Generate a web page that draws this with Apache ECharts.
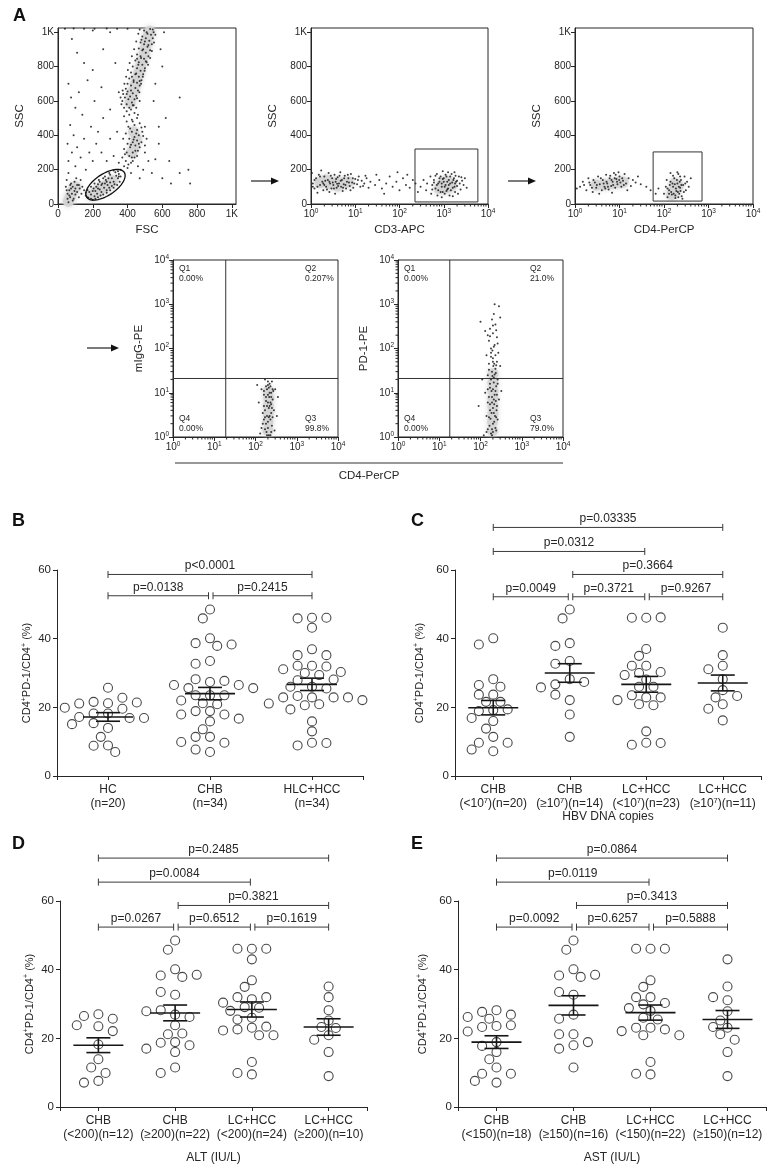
<!DOCTYPE html>
<html><head><meta charset="utf-8">
<script src="https://cdn.jsdelivr.net/npm/echarts@6/dist/echarts.min.js"></script>
<style>html,body{margin:0;padding:0;background:#fff}#c{width:780px;height:1173px}</style>
</head><body><div id="c"></div>
<script>
// ================= DATA =================
// ---- Panel A: flow cytometry events ----
const fscBand = [[380,560],[410,560],[395,580],[425,590],[370,600],[440,610],[385,620],[415,625],[450,630],[375,640],[430,645],[400,655],[460,660],[390,670],[445,675],[420,690],[470,690],[400,700],[455,705],[435,720],[480,720],[410,730],[465,740],[445,755],[490,755],[420,765],[475,775],[455,790],[500,790],[430,800],[485,810],[465,825],[510,825],[445,835],[495,845],[475,860],[520,860],[455,870],[505,880],[485,895],[530,895],[465,905],[515,915],[495,930],[540,930],[475,940],[525,950],[505,965],[545,965],[485,975],[535,985],[510,1000],[550,1000],[495,1010],[530,1018],[470,1015],[545,1015],
  [365,580],[430,575],[360,620],[455,615],[372,660],[468,650],[382,700],[478,700],[392,740],[488,740],[402,780],[498,775],[412,820],[518,810],[425,860],[530,850],[438,900],[540,890],[450,945],[552,940],[462,990],[560,985],[405,610],[420,660],[435,710],[450,760],[462,810],[478,850],[490,900],[500,945],[515,990],[395,640],[470,715],[425,740],[505,830],[455,845],[520,925],[480,955]];
const fscMid = [[360,200],[380,220],[400,210],[350,240],[390,250],[420,240],[370,270],[410,280],[440,270],[395,300],[430,300],[460,310],[380,320],[415,330],[445,340],[470,330],[400,350],[430,360],[455,370],[480,360],[410,380],[440,390],[465,400],[390,410],[425,420],[455,430],[485,420],[405,450],[440,460],[470,470],[395,480],[425,490],[455,500],[410,520],[440,530],[380,510],[420,550],[450,560],[500,300],[520,250],[490,200],[540,180],[560,260],[510,380],[420,180],[460,220],[500,450],[350,160],[470,150],[600,150],[650,120],[580,350],
  [405,230],[430,250],[385,290],[445,310],[420,345],[465,350],[435,375],[450,410],[415,440],[480,445],[430,480],[460,520],[395,540],[435,575],[470,600],[375,380],[490,395],[500,340],[425,270],[455,280]];
const fscLymph = [[170,40],[190,55],[210,45],[200,75],[225,60],[240,85],[220,100],[250,70],[265,95],[280,80],[255,120],[285,110],[300,125],[275,140],[310,150],[320,130],[335,165],[300,170],[345,150],[240,130],[190,30],[215,30],[330,185],[350,175],[230,115],[205,90],[180,70],[295,95],[325,115],[270,160],
  [160,50],[175,35],[200,25],[230,40],[245,50],[260,55],[280,65],[300,80],[320,95],[340,110],[355,130],[360,160],[345,190],[320,195],[295,180],[260,150],[235,140],[210,120],[190,100],[170,80],[160,65],[230,90],[280,130],[310,105],[250,110],[215,75],[270,120],[290,150]];
const fscDebris = [[60,10],[70,40],[80,60],[90,30],[65,80],[85,100],[100,90],[110,70],[75,120],[95,130],[120,110],[55,60],[105,150],[130,140],[140,100],[150,80],[50,140],[60,180],[45,100],[120,40],[135,60],
  [55,30],[65,50],[75,90],[85,20],[100,55],[110,110],[95,75],[50,80],[70,110],[125,90]];
const fscSparse = [[60,250],[80,300],[100,220],[55,350],[90,400],[70,460],[110,330],[130,270],[150,380],[180,300],[200,250],[160,200],[220,350],[250,300],[190,450],[140,520],[100,560],[75,620],[60,700],[120,650],[170,720],[210,600],[260,500],[230,420],[300,380],[280,250],[320,280],[340,420],[300,550],[250,680],[200,780],[150,820],[110,880],[260,900],[330,820],[350,650],[580,450],[620,500],[700,620],[550,600],[600,800],[560,700],[640,250],[700,180],[750,200],[760,120],[80,960],[300,1000],[200,1010],[610,1000],[590,900],[40,1020],[90,1021],[150,1020],[210,1019],[280,1021],[340,1020],[400,1020]];
const fscCore = [[415,590],[425,625],[435,660],[445,695],[455,730],[465,765],[475,800],[485,835],[495,870],[503,905],[511,940],[519,975],[527,1005],[425,300],[440,340],[450,380],[435,420],[215,65],[235,80],[255,92],[275,105],[295,118],[315,135],[195,50],[70,40],[85,75],[100,100],[60,15]];

const cd3Dots = [[1.1,120],[1.3,150],[1.2,90],[1.5,170],[1.6,110],[1.8,130],[1.9,80],[2.0,160],[2.2,100],[2.4,140],[2.5,180],[2.7,120],[2.9,90],[3.0,150],[3.2,110],[3.4,170],[3.6,130],[3.8,95],[4.0,155],[4.3,120],[4.6,185],[4.8,100],[5.0,140],[5.5,115],[5.8,165],[6.2,90],[6.5,130],[7.0,150],[7.5,105],[8.0,175],[8.5,125],[9.0,95],[10,145],[11,115],[12,160],[13,100],[14,135],[16,120],[18,150],[20,95],[22,130],[1.4,65],[2.6,70],[3.5,60],[1.05,180],[1.7,195],[5.2,75],[7.8,80],
  [1.2,140],[1.4,100],[1.6,160],[1.9,120],[2.1,135],[2.3,85],[2.8,165],[3.1,125],[3.3,90],[3.7,145],[4.1,105],[4.4,165],[5.3,95],[5.6,150],[6.0,110],[6.8,170],[7.2,125],[9.5,120],[11.5,140],[15,105],[17,165],[1.1,100],[2.0,110],[2.6,130],[3.9,118],[4.7,135],[8.8,150],
  [28,110],[35,140],[40,90],[50,120],[60,160],[70,100],[85,130],[100,80],[120,150],[140,110],[170,95],[200,140],[230,120],[260,70],[45,60],[150,170],[90,185],[30,170],
  [300,100],[350,140],[400,80],[420,120],[500,160],[520,60],[550,110],[600,140],[650,90],[700,175],[720,50],[750,120],[800,150],[850,70],[900,100],[950,190],[1000,130],[1050,60],[1100,110],[1150,160],[1200,85],[1300,140],[1350,50],[1400,120],[1500,175],[1600,95],[1700,150],[1800,70],[1900,130],[2000,105],[2200,160],[2400,85],[2600,135],[2800,110],[3000,150],[3300,95],[1250,185],[900,40],[1600,45],[2100,60],[650,165],[1750,185],
  [700,110],[750,80],[800,130],[850,160],[900,120],[950,70],[1000,150],[1050,100],[1100,170],[1150,75],[1200,130],[1300,110],[1400,160],[1450,80],[1550,125],[1650,140],[1750,100],[1850,165],[2000,135],[2300,120],[2500,155],[600,125],[550,85],[1800,120],[1250,90],[950,145]];
const cd3Core = [[900,105],[1100,95],[1300,100],[1500,110],[1000,125],[1250,130],[800,90],[1.6,125],[2.5,120],[3.6,125],[5,122],[7,128],[2.2,140],[4,105]];

const cd4Dots = [[1.3,100],[1.5,130],[1.8,80],[2.0,150],[2.2,110],[2.5,70],[2.8,125],[3.0,95],[3.3,160],[3.6,115],[4.0,80],[4.2,140],[4.6,100],[5.0,170],[5.3,120],[5.7,85],[6.0,150],[6.5,105],[7.0,130],[7.5,180],[8.0,95],[8.5,145],[9.0,115],[10,160],[11,100],[12,135],[13,175],[14,120],[16,150],[18,105],[20,140],[23,125],[26,160],[30,115],[3.5,60],[6.8,65],[1.1,90],[9.5,185],[15,80],
  [1.6,110],[2.1,125],[2.6,140],[3.1,110],[3.8,150],[4.4,120],[5.1,130],[5.5,100],[6.2,165],[7.2,110],[7.8,150],[8.8,130],[9.8,140],[11.5,150],[12.5,110],[2.4,95],[4.8,90],[6.6,140],[8.2,170],[10.5,125],
  [40,100],[50,80],[65,60],[75,90],
  [100,60],[110,100],[120,40],[130,80],[140,130],[150,55],[160,100],[170,150],[180,35],[190,75],[200,120],[210,175],[220,60],[230,95],[240,140],[250,45],[270,110],[290,160],[310,80],[330,130],[360,100],[400,150],[140,180],[200,185],[260,30],[115,140],
  [120,90],[135,110],[145,70],[155,120],[165,60],[175,115],[185,90],[195,140],[205,70],[215,100],[225,130],[235,75],[245,110],[160,165],[180,50],[210,40],[280,70],[300,120],[130,60],[230,160]];
const cd4Core = [[3,110],[4.5,112],[6.5,120],[9,125],[12,128],[160,70],[185,90],[205,105],[175,120],[150,55]];

const igDots = [[130,1.2],[150,2],[170,1.5],[190,3],[210,1.1],[230,2.5],[250,1.8],[280,4],[160,5],[200,6],[240,3.5],[180,8],[220,10],[260,7],[140,12],[200,15],[250,18],[170,20],[300,12],[120,6],[330,3],[290,1.4],[210,4.5],[190,12],[230,14],[160,9],[270,11],[200,2.2],[185,1.3],[240,5.5],[215,8],[150,3.5],[350,8],[110,15],[260,2.8],
  [140,1.6],[160,2.5],[180,2],[200,1.6],[220,3],[240,1.3],[170,4],[190,5],[210,2.8],[230,6],[250,4.5],[180,6.5],[200,9],[220,5],[240,8],[260,12],[200,18],[180,14],[220,16],[160,11],[240,10],[190,1.1],[230,1.1],[170,2.8],[210,13]];
const igCore = [[200,1.4],[200,2.2],[205,3.4],[205,5],[210,7.5],[205,11]];

const pd1Dots = [[120,1.1],[150,1.5],[180,1.2],[200,2],[230,1.6],[260,2.5],[140,3],[170,4],[210,3.5],[250,5],[190,6],[160,8],[220,9],[280,7],[130,10],[200,12],[240,14],[170,16],[260,20],[150,25],[210,22],[190,30],[230,35],[160,45],[250,50],[200,60],[140,70],[270,80],[180,100],[220,120],[160,150],[250,180],[200,220],[170,280],[230,350],[190,450],[210,600],[220,1000],[280,900],[300,500],[100,400],[130,250],[300,40],[110,20],[320,11],[90,5],[240,2.8],[200,1.3],[175,2.6],[215,5.5],[185,11],[235,28],[205,40],[180,65],[195,90],[260,130],[150,200],
  [140,1.3],[165,1.8],[190,1.5],[215,2.2],[240,1.4],[160,2.8],[185,3.5],[200,4.5],[225,3],[245,4],[170,5.5],[210,7],[235,6.5],[150,6],[190,8],[230,11],[170,13],[210,17],[250,9],[180,20],[220,26],[160,33],[240,42],[200,50],[180,80],[230,70],[210,110],[170,190],[240,260],[200,330],[190,1.1],[150,12],[260,16],[195,24],[215,45]];
const pd1Core = [[195,1.4],[195,2.2],[200,3.4],[200,5],[200,7.5],[200,11],[200,17],[200,27]];

const lymphGate = [273, 112, 130, 62, 34];     // centre FSC, centre SSC, half-length, half-width, tilt (deg)
const cd3Gate = [224, 5900, 12, 320];          // x from, x to, y from, y to
const cd4Gate = [57, 715, 17, 303];
const quadGates = [[19, 21], [18, 21]];         // CD4 / PE thresholds
const igQuad = ['0.00%', '0.207%', '99.8%', '0.00%'];   // Q1, Q2, Q3, Q4
const pd1Quad = ['0.00%', '21.0%', '79.0%', '0.00%'];

const linTicks = [0, 200, 400, 600, 800, 1000];
const logTicks = [1, 10, 100, 1000, 10000];
const logMinor = [2,3,4,5,6,7,8,9,20,30,40,50,60,70,80,90,200,300,400,500,600,700,800,900,2000,3000,4000,5000,6000,7000,8000,9000];

// ---- Panel B ----
const bCats = ['HC\n(n=20)', 'CHB\n(n=34)', 'HLC+HCC\n(n=34)'];
const bHC = [25.7,21.2,21.6,22.8,21.1,21.4,19.6,19.9,18.2,18.2,16.9,17.2,16.9,14.0,15.4,15.1,11.4,8.9,8.8,7.0];
const bCHB = [48.5,45.9,40.1,38.7,37.9,38.3,33.5,32.7,27.4,28.2,27.7,25.6,26.5,26.5,25.6,23.5,23.5,23.5,22.0,21.2,20.9,18.9,18.9,17.9,17.9,15.9,16.7,13.6,11.4,11.4,9.7,9.9,7.0,7.7];
const bHLC = [46.1,45.9,46.1,43.2,36.9,35.2,35.2,32.1,32.1,31.9,31.1,30.0,30.3,29.4,27.9,28.1,26.0,25.5,26.0,22.9,23.3,22.9,22.9,22.9,21.1,20.6,20.9,22.1,19.4,15.9,13.0,9.7,8.9,9.6];
const bMean = [17.2, 24.0, 26.7];
const bSem = [1.25, 1.8, 1.8];
const bBrackets = [[0,2,58.7,'p<0.0001'],[0,1,52.5,'p=0.0138'],[1,2,52.5,'p=0.2415']];

// ---- Panel C ----
const cCats = ['CHB\n(<10{s|7})(n=20)', 'CHB\n(≥10{s|7})(n=14)', 'LC+HCC\n(<10{s|7})(n=23)', 'LC+HCC\n(≥10{s|7})(n=11)'];
const cG1 = [40.1,38.3,28.2,26.5,26.0,23.7,23.7,21.6,21.6,19.2,18.9,19.4,16.0,16.9,13.8,11.4,9.7,9.7,7.2,7.7];
const cG2 = [48.5,45.9,38.7,37.9,33.5,32.7,28.2,26.7,27.4,25.8,22.1,23.7,17.9,11.4];
const cG3 = [46.1,46.1,46.2,37.0,35.0,32.1,32.1,30.0,30.3,29.4,28.1,26.0,26.0,22.9,23.5,22.9,22.1,20.9,20.6,13.0,9.7,9.1,9.6];
const cG4 = [43.2,35.2,32.1,31.1,28.2,25.0,22.9,23.3,20.9,19.6,16.2];
const cMean = [19.9, 30.0, 26.7, 27.1];
const cSem = [2.1, 2.7, 2.3, 2.3];
const cBrackets = [[0,3,72.4,'p=0.03335'],[0,2,65.4,'p=0.0312'],[1,3,58.7,'p=0.3664'],[0,1,52.2,'p=0.0049'],[1,2,52.2,'p=0.3721'],[2,3,52.2,'p=0.9267']];

// ---- Panel D ----
const dCats = ['CHB\n(<200)(n=12)', 'CHB\n(≥200)(n=22)', 'LC+HCC\n(<200)(n=24)', 'LC+HCC\n(≥200)(n=10)'];
const dG1 = [27.0,26.5,25.7,23.5,23.8,22.1,18.2,13.9,11.5,9.9,7.6,7.1];
const dG2 = [48.5,45.8,40.1,38.3,37.9,38.5,32.7,33.5,26.9,28.2,26.2,27.9,23.8,21.2,21.4,18.9,18.7,18.0,17.0,16.0,11.5,9.9];
const dG3 = [46.1,46.1,46.1,43.0,36.9,35.0,31.4,32.0,32.0,30.4,29.1,28.9,28.0,26.0,25.5,23.1,23.4,22.6,22.3,20.9,20.9,13.1,9.5,9.9];
const dG4 = [35.1,32.0,28.2,25.2,23.3,23.0,20.9,19.6,16.0,9.0];
const dMean = [18.0, 27.4, 28.4, 23.3];
const dSem = [2.15, 2.3, 2.2, 2.4];
const dBrackets = [[0,3,72.5,'p=0.2485'],[0,2,65.5,'p=0.0084'],[1,3,58.7,'p=0.3821'],[0,1,52.4,'p=0.0267'],[1,2,52.4,'p=0.6512'],[2,3,52.4,'p=0.1619']];

// ---- Panel E ----
const eCats = ['CHB\n(<150)(n=18)', 'CHB\n(≥150)(n=16)', 'LC+HCC\n(<150)(n=22)', 'LC+HCC\n(≥150)(n=12)'];
const eG1 = [28.2,27.7,26.9,26.2,25.7,23.6,23.3,23.8,22.0,18.9,17.8,16.0,13.9,11.5,9.7,9.7,7.1,7.6];
const eG2 = [48.5,45.8,40.1,38.3,37.9,38.5,32.7,33.5,26.9,25.7,18.0,21.2,21.2,18.9,17.0,11.5];
const eG3 = [46.1,46.1,46.1,36.9,35.0,32.0,32.0,29.9,30.3,28.8,28.0,26.0,25.5,23.1,23.1,22.6,22.1,20.9,20.9,13.1,9.5,9.7];
const eG4 = [43.0,35.1,31.1,32.0,27.9,25.2,23.1,23.3,21.2,19.6,16.0,9.0];
const eMean = [18.9, 29.6, 27.5, 25.5];
const eSem = [1.85, 2.8, 2.2, 2.6];
const eBrackets = [[0,3,72.5,'p=0.0864'],[0,2,65.5,'p=0.0119'],[1,3,58.7,'p=0.3413'],[0,1,52.4,'p=0.0092'],[1,2,52.4,'p=0.6257'],[2,3,52.4,'p=0.5888']];

const yMax = 60, yTickStep = 20;

// ================= CHART =================
const FONT = "'Liberation Sans', Arial, Helvetica, sans-serif";
const INK = '#262626';
const chart = echarts.init(document.getElementById('c'), null, {renderer: 'canvas', width: 780, height: 1173});

const flowGrids = [
  {left: 58, top: 28, width: 178, height: 176},
  {left: 311, top: 28, width: 177, height: 176},
  {left: 575, top: 28, width: 178, height: 176},
  {left: 173, top: 260, width: 165, height: 177},
  {left: 398, top: 260, width: 165, height: 177}
];
const dotPanels = [
  {groups: [bHC, bCHB, bHLC], cats: bCats, mean: bMean, sem: bSem, brackets: bBrackets,
   grid: {left: 57, top: 570, width: 306, height: 206}, xName: '', xGap: 0, yGap: 20},
  {groups: [cG1, cG2, cG3, cG4], cats: cCats, mean: cMean, sem: cSem, brackets: cBrackets,
   grid: {left: 455, top: 570, width: 306, height: 206}, xName: 'HBV DNA copies', xGap: 35, yGap: 28},
  {groups: [dG1, dG2, dG3, dG4], cats: dCats, mean: dMean, sem: dSem, brackets: dBrackets,
   grid: {left: 60, top: 901, width: 307, height: 206}, xName: 'ALT (IU/L)', xGap: 45, yGap: 23},
  {groups: [eG1, eG2, eG3, eG4], cats: eCats, mean: eMean, sem: eSem, brackets: eBrackets,
   grid: {left: 458, top: 901, width: 308, height: 206}, xName: 'AST (IU/L)', xGap: 45, yGap: 28}
];

const supRich = {s: {fontSize: 6.5, lineHeight: 7, verticalAlign: 'top', fontFamily: FONT, color: INK}};

function flowAxis(gi, kind, name, nameGap) {
  const ax = {
    gridIndex: gi, name: name, nameLocation: 'middle', nameGap: nameGap,
    nameTextStyle: {fontSize: 11.5, color: INK, fontFamily: FONT},
    axisLine: {show: true, onZero: false, lineStyle: {color: INK, width: 1}},
    splitLine: {show: false},
    axisLabel: {fontSize: 10, color: INK, fontFamily: FONT, margin: 4, lineHeight: 13, rich: supRich}
  };
  if (kind === 'lin') {
    Object.assign(ax, {type: 'value', min: 0, max: 1024});
    ax.axisTick = {show: true, length: 4, lineStyle: {color: INK}, customValues: linTicks};
    ax.axisLabel.customValues = linTicks;
    ax.axisLabel.formatter = v => (v >= 1000 ? '1K' : String(v));
  } else {
    Object.assign(ax, {type: 'log', logBase: 10, min: 1, max: 10000});
    ax.axisTick = {show: true, length: 4, lineStyle: {color: INK}, customValues: logTicks};
    ax.axisLabel.customValues = logTicks;
    ax.axisLabel.formatter = v => '10{s|' + Math.round(Math.log10(v)) + '}';
  }
  return ax;
}

const grids = [], xAxes = [], yAxes = [], series = [];
flowGrids.forEach(g => grids.push(Object.assign({show: true, borderColor: INK, borderWidth: 1, backgroundColor: 'transparent', containLabel: false}, g)));
xAxes.push(flowAxis(0, 'lin', 'FSC', 20));
yAxes.push(flowAxis(0, 'lin', 'SSC', 32));
xAxes.push(flowAxis(1, 'log', 'CD3-APC', 20));
yAxes.push(flowAxis(1, 'lin', 'SSC', 32));
xAxes.push(flowAxis(2, 'log', 'CD4-PerCP', 20));
yAxes.push(flowAxis(2, 'lin', 'SSC', 32));
xAxes.push(flowAxis(3, 'log', '', 0));
yAxes.push(flowAxis(3, 'log', 'mIgG-PE', 28));
xAxes.push(flowAxis(4, 'log', '', 0));
yAxes.push(flowAxis(4, 'log', 'PD-1-PE', 28));

function dotCloud(idx, dots, core) {
  series.push({type: 'scatter', xAxisIndex: idx, yAxisIndex: idx, data: core, symbolSize: 11, silent: true, z: 1,
    itemStyle: {color: '#d4d4d4', opacity: 0.9, shadowBlur: 5, shadowColor: '#d4d4d4'}});
  series.push({type: 'scatter', xAxisIndex: idx, yAxisIndex: idx, data: dots, symbolSize: 2, silent: true, z: 2,
    itemStyle: {color: '#1a1a1a', opacity: 0.85}});
}
dotCloud(0, fscBand.concat(fscMid, fscLymph, fscDebris, fscSparse), fscCore);
dotCloud(1, cd3Dots, cd3Core);
dotCloud(2, cd4Dots, cd4Core);
dotCloud(3, igDots, igCore);
dotCloud(4, pd1Dots, pd1Core);

// minor ticks on log axes
function minorTicks(idx, onX) {
  series.push({type: 'custom', xAxisIndex: idx, yAxisIndex: idx, silent: true, z: 5,
    data: logMinor.map(v => (onX ? [v, null] : [null, v])),
    renderItem: (params, api) => {
      const cs = params.coordSys;
      if (onX) {
        const p = api.coord([api.value(0), 1]);
        return {type: 'line', shape: {x1: p[0], y1: cs.y + cs.height, x2: p[0], y2: cs.y + cs.height + 2.5}, style: {stroke: INK, lineWidth: 1}};
      }
      const p = api.coord([1, api.value(1)]);
      return {type: 'line', shape: {x1: cs.x, y1: p[1], x2: cs.x - 2.5, y2: p[1]}, style: {stroke: INK, lineWidth: 1}};
    }});
}
minorTicks(1, true); minorTicks(2, true); minorTicks(3, true); minorTicks(4, true);
minorTicks(3, false); minorTicks(4, false);

// lymphocyte gate (ellipse)
series.push({type: 'custom', xAxisIndex: 0, yAxisIndex: 0, silent: true, z: 6, data: [lymphGate],
  renderItem: (params, api) => {
    const cx = api.value(0), cy = api.value(1), a = api.value(2), b = api.value(3), th = api.value(4) * Math.PI / 180;
    const pts = [];
    for (let t = 0; t < 72; t++) {
      const u = t / 72 * 2 * Math.PI;
      pts.push(api.coord([cx + a * Math.cos(u) * Math.cos(th) - b * Math.sin(u) * Math.sin(th),
                          cy + a * Math.cos(u) * Math.sin(th) + b * Math.sin(u) * Math.cos(th)]));
    }
    return {type: 'polygon', shape: {points: pts}, style: {fill: 'none', stroke: '#111', lineWidth: 1.3}};
  }});
// rectangular gates
[[1, cd3Gate], [2, cd4Gate]].forEach(([idx, g]) => {
  series.push({type: 'custom', xAxisIndex: idx, yAxisIndex: idx, silent: true, z: 6, data: [g],
    renderItem: (params, api) => {
      const p1 = api.coord([api.value(0), api.value(3)]);
      const p2 = api.coord([api.value(1), api.value(2)]);
      return {type: 'rect', shape: {x: p1[0], y: p1[1], width: p2[0] - p1[0], height: p2[1] - p1[1]},
        style: {fill: 'none', stroke: '#333', lineWidth: 1}};
    }});
});
// quadrant gates
[[3, quadGates[0]], [4, quadGates[1]]].forEach(([idx, q]) => {
  series.push({type: 'custom', xAxisIndex: idx, yAxisIndex: idx, silent: true, z: 6, data: [q],
    renderItem: (params, api) => {
      const cs = params.coordSys;
      const p = api.coord([api.value(0), api.value(1)]);
      return {type: 'group', children: [
        {type: 'line', shape: {x1: p[0], y1: cs.y, x2: p[0], y2: cs.y + cs.height}, style: {stroke: '#333', lineWidth: 1}},
        {type: 'line', shape: {x1: cs.x, y1: p[1], x2: cs.x + cs.width, y2: p[1]}, style: {stroke: '#333', lineWidth: 1}}
      ]};
    }});
});

// ---- dot plots ----
function swarm(vals, gi, bandPx, pxPerUnit) {
  const placed = [], out = [];
  const step = 7.2, minD = 9.6;
  vals.forEach(v => {
    const y = v * pxPerUnit;
    for (let k = 0; k < 80; k++) {
      const off = k === 0 ? 0 : (k % 2 ? -1 : 1) * Math.ceil(k / 2) * step;
      if (placed.every(p => Math.hypot(p[0] - off, p[1] - y) >= minD)) {
        placed.push([off, y]); out.push([gi + 0.5 + off / bandPx, v]); break;
      }
    }
  });
  return out;
}

const graphics = [];
dotPanels.forEach(P => {
  const gIdx = grids.length;
  const n = P.cats.length;
  grids.push(Object.assign({show: false, containLabel: false}, P.grid));
  const tickVals = [0].concat(P.cats.map((c, i) => i + 0.5), [n]);
  const labVals = P.cats.map((c, i) => i + 0.5);
  xAxes.push({
    type: 'value', gridIndex: gIdx, min: 0, max: n,
    name: P.xName, nameLocation: 'middle', nameGap: P.xGap,
    nameTextStyle: {fontSize: 12, color: INK, fontFamily: FONT},
    axisLine: {show: true, onZero: false, lineStyle: {color: INK, width: 1}},
    axisTick: {show: true, length: 4, lineStyle: {color: INK}, customValues: tickVals},
    axisLabel: {customValues: labVals, formatter: v => P.cats[Math.floor(v)], fontSize: 12, lineHeight: 13.5,
      color: INK, fontFamily: FONT, margin: 7, rich: {s: {fontSize: 7.5, lineHeight: 7, verticalAlign: 'top', fontFamily: FONT, color: INK}}},
    splitLine: {show: false}
  });
  yAxes.push({
    type: 'value', gridIndex: gIdx, min: 0, max: yMax, interval: yTickStep,
    name: 'CD4{s|+}PD-1/CD4{s|+} (%)', nameLocation: 'middle', nameGap: P.yGap,
    nameTextStyle: {fontSize: 11, color: INK, fontFamily: FONT, lineHeight: 14,
      rich: {s: {fontSize: 7, lineHeight: 7, verticalAlign: 'top', fontFamily: FONT, color: INK}}},
    axisLine: {show: true, lineStyle: {color: INK, width: 1}},
    axisTick: {show: true, length: 4, lineStyle: {color: INK}},
    axisLabel: {fontSize: 11.5, color: INK, fontFamily: FONT, margin: 6},
    splitLine: {show: false}
  });
  const bandPx = P.grid.width / n, pxPerUnit = P.grid.height / yMax;
  let pts = [];
  P.groups.forEach((vals, gi) => { pts = pts.concat(swarm(vals, gi, bandPx, pxPerUnit)); });
  series.push({type: 'scatter', xAxisIndex: gIdx, yAxisIndex: gIdx, data: pts, symbol: 'circle', symbolSize: 9, z: 3,
    itemStyle: {color: 'rgba(255,255,255,0)', borderColor: '#1a1a1a', borderWidth: 1.1}, silent: true});
  // mean ± SEM
  series.push({type: 'custom', xAxisIndex: gIdx, yAxisIndex: gIdx, silent: true, z: 4,
    data: P.mean.map((m, i) => [i, m, P.sem[i]]),
    renderItem: (params, api) => {
      const i = api.value(0), m = api.value(1), s = api.value(2);
      const c = api.coord([i + 0.5, m]), t = api.coord([i + 0.5, m + s]), b = api.coord([i + 0.5, m - s]);
      const st = {stroke: '#151515', lineWidth: 1.6};
      return {type: 'group', children: [
        {type: 'line', shape: {x1: c[0] - 25, y1: c[1], x2: c[0] + 25, y2: c[1]}, style: st},
        {type: 'line', shape: {x1: c[0], y1: t[1], x2: c[0], y2: b[1]}, style: st},
        {type: 'line', shape: {x1: c[0] - 12, y1: t[1], x2: c[0] + 12, y2: t[1]}, style: st},
        {type: 'line', shape: {x1: c[0] - 12, y1: b[1], x2: c[0] + 12, y2: b[1]}, style: st}
      ]};
    }});
  // significance brackets
  series.push({type: 'custom', xAxisIndex: gIdx, yAxisIndex: gIdx, silent: true, z: 4, clip: false,
    data: P.brackets.map(b => [b[0], b[1], b[2]]),
    renderItem: (params, api) => {
      const i = api.value(0), j = api.value(1), lv = api.value(2);
      const p1 = api.coord([i + 0.5, lv]), p2 = api.coord([j + 0.5, lv]);
      const x1 = p1[0] + (i > 0 ? 3 : 0), x2 = p2[0] - (j < n - 1 ? 1.5 : 0), y = p1[1];
      const st = {stroke: '#3a3a3a', lineWidth: 1};
      return {type: 'group', children: [
        {type: 'line', shape: {x1: x1, y1: y, x2: x2, y2: y}, style: st},
        {type: 'line', shape: {x1: x1, y1: y - 3.5, x2: x1, y2: y + 3.5}, style: st},
        {type: 'line', shape: {x1: x2, y1: y - 3.5, x2: x2, y2: y + 3.5}, style: st},
        {type: 'text', style: {text: P.brackets[params.dataIndex][3], x: (x1 + x2) / 2, y: y - 2.5,
          align: 'center', verticalAlign: 'bottom', fontSize: 12, fontFamily: FONT, fill: INK}}
      ]};
    }});
});

// ---- decorations: panel letters, arrows, shared axis title, quadrant statistics ----
const letterStyle = {fontSize: 18, fontWeight: 'bold', fontFamily: "'Liberation Sans Narrow', 'Liberation Sans', Arial, sans-serif", fill: '#111'};
[['A', 13, 7], ['B', 12, 512], ['C', 411, 512], ['D', 12, 835], ['E', 411, 835]].forEach(([t, x, y]) => {
  graphics.push({type: 'text', left: x, top: y, style: Object.assign({text: t}, letterStyle)});
});
function arrow(x1, x2, y) {
  graphics.push({type: 'line', shape: {x1: x1, y1: y, x2: x2 - 6, y2: y}, style: {stroke: '#222', lineWidth: 1.2}});
  graphics.push({type: 'polygon', shape: {points: [[x2, y], [x2 - 8, y - 3.5], [x2 - 8, y + 3.5]]}, style: {fill: '#111'}});
}
arrow(251, 279, 181); arrow(508, 536, 181); arrow(87, 119, 348);
graphics.push({type: 'line', shape: {x1: 175, y1: 463, x2: 563, y2: 463}, style: {stroke: '#333', lineWidth: 1}});
graphics.push({type: 'text', x: 369, y: 476, style: {text: 'CD4-PerCP', align: 'center', verticalAlign: 'middle', fontSize: 11.5, fontFamily: FONT, fill: INK}});
[[flowGrids[3], igQuad], [flowGrids[4], pd1Quad]].forEach(([g, q]) => {
  const L = g.left + 6, R = g.left + g.width - 33, T = g.top + 4, B = g.top + g.height - 23;
  const qs = {fontSize: 8.5, fontFamily: FONT, fill: INK, lineHeight: 10};
  graphics.push({type: 'text', x: L, y: T, style: Object.assign({text: 'Q1\n' + q[0]}, qs)});
  graphics.push({type: 'text', x: R, y: T, style: Object.assign({text: 'Q2\n' + q[1]}, qs)});
  graphics.push({type: 'text', x: R, y: B, style: Object.assign({text: 'Q3\n' + q[2]}, qs)});
  graphics.push({type: 'text', x: L, y: B, style: Object.assign({text: 'Q4\n' + q[3]}, qs)});
});

chart.setOption({
  animation: false,
  backgroundColor: '#fff',
  textStyle: {fontFamily: FONT},
  grid: grids, xAxis: xAxes, yAxis: yAxes, series: series,
  graphic: graphics
});
</script></body></html>
